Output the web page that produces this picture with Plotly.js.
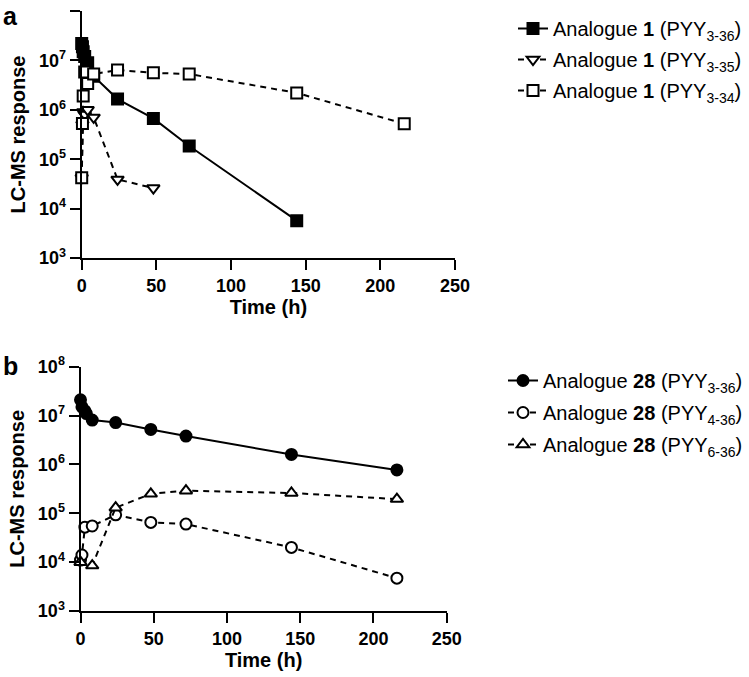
<!DOCTYPE html>
<html>
<head>
<meta charset="utf-8">
<script src="https://cdn.plot.ly/plotly-3.0.1.min.js"></script>
<style>html,body{margin:0;padding:0;background:#fff;}#chart{width:749px;height:677px;}</style>
</head>
<body>
<div id="chart"></div>
<script>
// Panel a: Analogue 1
const a1Time = [0, 0.5, 1, 2, 4, 8, 24, 48, 72, 144];
const a1PYY3_36 = [2.2e7, 1.9e7, 1.5e7, 1.2e7, 9.0e6, 4.8e6, 1.65e6, 6.7e5, 1.85e5, 5.7e3];
const a2Time = [0, 0.5, 1, 2, 4, 8, 24, 48];
const a1PYY3_35 = [4.2e4, 5.0e5, 9.0e5, 8.0e5, 1.0e6, 7.0e5, 3.9e4, 2.6e4];
const a3Time = [0, 0.5, 1, 2, 4, 8, 24, 48, 72, 144, 216];
const a1PYY3_34 = [4.2e4, 5.3e5, 1.9e6, 5.8e6, 3.4e6, 5.3e6, 6.4e6, 5.6e6, 5.3e6, 2.2e6, 5.2e5];

// Panel b: Analogue 28
const b1Time = [0, 1, 3, 4, 8, 24, 48, 72, 144, 216];
const b28PYY3_36 = [2.1e7, 1.5e7, 1.25e7, 1.1e7, 8.1e6, 7.2e6, 5.2e6, 3.8e6, 1.6e6, 7.7e5];
const b2Time = [0, 1, 3, 8, 24, 48, 72, 144, 216];
const b28PYY4_36 = [1.1e4, 1.4e4, 5.2e4, 5.5e4, 9.3e4, 6.5e4, 6.0e4, 2.0e4, 4.7e3];
const b3Time = [0, 8, 24, 48, 72, 144, 216];
const b28PYY6_36 = [1.0e4, 8.5e3, 1.3e5, 2.5e5, 2.9e5, 2.6e5, 1.95e5];

const xTickVals = [0, 50, 100, 150, 200, 250];
const yTickVals = [1e3, 1e4, 1e5, 1e6, 1e7, 1e8];
const yTickText = ['10<sup>3</sup>', '10<sup>4</sup>', '10<sup>5</sup>', '10<sup>6</sup>', '10<sup>7</sup>', '10<sup>8</sup>'];

const FONT = 'Liberation Sans, Arial, sans-serif';

function tr(x, y, name, sym, fill, dash, xa, ya, leg, grp) {
  return {
    x: x, y: y, name: name, type: 'scatter', mode: 'lines+markers',
    xaxis: xa, yaxis: ya, legend: leg, legendgroup: grp, cliponaxis: false,
    line: {color: 'black', width: 2, dash: dash},
    marker: {symbol: sym, size: 11, color: fill,
             line: {color: 'black', width: 2}}
  };
}

const data = [
  tr(a1Time, a1PYY3_36, 'Analogue <b>1</b> (PYY<sub>3-36</sub>)', 'square', 'black', 'solid', 'x', 'y', 'legend', 'g1'),
  tr(a2Time, a1PYY3_35, 'Analogue <b>1</b> (PYY<sub>3-35</sub>)', 'triangle-down', 'white', '6px,5px', 'x', 'y', 'legend', 'g2'),
  tr(a3Time, a1PYY3_34, 'Analogue <b>1</b> (PYY<sub>3-34</sub>)', 'square', 'white', '6px,5px', 'x', 'y', 'legend', 'g3'),
  tr(b1Time, b28PYY3_36, 'Analogue <b>28</b> (PYY<sub>3-36</sub>)', 'circle', 'black', 'solid', 'x2', 'y2', 'legend2', 'g4'),
  tr(b2Time, b28PYY4_36, 'Analogue <b>28</b> (PYY<sub>4-36</sub>)', 'circle', 'white', '6px,5px', 'x2', 'y2', 'legend2', 'g5'),
  tr(b3Time, b28PYY6_36, 'Analogue <b>28</b> (PYY<sub>6-36</sub>)', 'triangle-up', 'white', '6px,5px', 'x2', 'y2', 'legend2', 'g6')
];

const W = 749, H = 677;
function xaxis(dom, anchor) {
  return {
    domain: dom, anchor: anchor, range: [0, 250], tickvals: xTickVals,
    showgrid: false, zeroline: false, showline: true, linecolor: 'black', linewidth: 2,
    ticks: 'outside', ticklen: 10, tickwidth: 2, tickcolor: 'black',
    tickfont: {family: FONT, size: 18, color: 'black', weight: 'bold'},
    automargin: false,
    title: {text: 'Time (h)', font: {family: FONT, size: 20, color: 'black', weight: 'bold'}, standoff: 5}
  };
}
function yaxis(dom, anchor) {
  return {
    domain: dom, anchor: anchor, type: 'log', range: [3, 8], tickvals: yTickVals, ticktext: yTickText,
    showgrid: false, zeroline: false, showline: true, linecolor: 'black', linewidth: 2,
    ticks: 'outside', ticklen: 10, tickwidth: 2, tickcolor: 'black',
    tickfont: {family: FONT, size: 18, color: 'black', weight: 'bold'},
    automargin: false,
    title: {text: 'LC-MS response', font: {family: FONT, size: 20, color: 'black', weight: 'bold'}, standoff: 8}
  };
}

const layout = {
  width: W, height: H,
  margin: {l: 0, r: 0, t: 0, b: 0},
  paper_bgcolor: 'white', plot_bgcolor: 'white',
  showlegend: true,
  font: {family: FONT, color: 'black'},
  xaxis: xaxis([81.7 / W, 455 / W], 'y'),
  yaxis: yaxis([1 - 258 / H, 1 - 11 / H], 'x'),
  xaxis2: xaxis([80.5 / W, 446.7 / W], 'y2'),
  yaxis2: yaxis([1 - 611 / H, 1 - 366.7 / H], 'x2'),
  legend: {x: 513 / W, y: 1 - 9 / H, xanchor: 'left', yanchor: 'top', bgcolor: 'rgba(0,0,0,0)',
           tracegroupgap: 2, font: {family: FONT, size: 20, color: 'black'}},
  legend2: {x: 503 / W, y: 1 - 361 / H, xanchor: 'left', yanchor: 'top', bgcolor: 'rgba(0,0,0,0)',
            tracegroupgap: 3, font: {family: FONT, size: 20, color: 'black'}},
  annotations: [
    {text: '<b>a</b>', x: 1 / W, y: 1 - 0 / H, xref: 'paper', yref: 'paper', xanchor: 'left', yanchor: 'top',
     showarrow: false, font: {family: FONT, size: 25, color: 'black'}},
    {text: '<b>b</b>', x: 1 / W, y: 1 - 350 / H, xref: 'paper', yref: 'paper', xanchor: 'left', yanchor: 'top',
     showarrow: false, font: {family: FONT, size: 25, color: 'black'}}
  ]
};

Plotly.newPlot('chart', data, layout, {displayModeBar: false});
</script>
</body>
</html>
